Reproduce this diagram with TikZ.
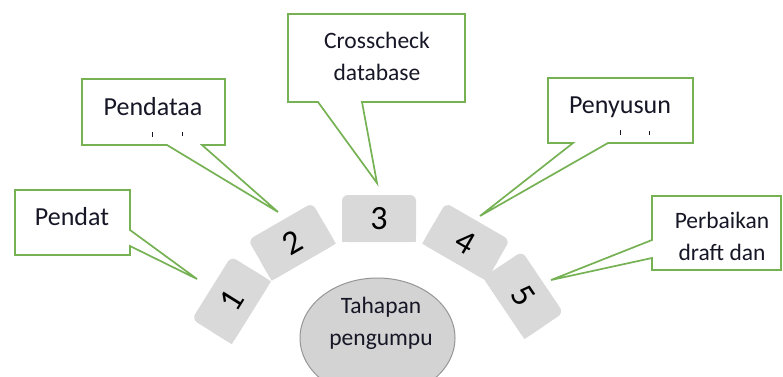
\documentclass[tikz,border=0pt]{standalone}
\usepackage{fontspec}
\setmainfont{Carlito}
\usetikzlibrary{shapes.geometric}
\definecolor{callgreen}{RGB}{118,178,84}
\definecolor{tilegray}{RGB}{217,217,217}
\definecolor{hubfill}{RGB}{211,211,211}
\definecolor{hubedge}{RGB}{150,150,150}
\definecolor{ink}{RGB}{22,22,38}
\begin{document}
\begin{tikzpicture}[x=1pt,y=-1pt,
  callout/.style={draw=callgreen, line width=1.7pt, fill=white, line join=miter},
  bigtxt/.style={anchor=base, inner sep=0pt, text=ink, font=\fontsize{26}{32}\selectfont},
  midtxt/.style={anchor=base, inner sep=0pt, text=ink, font=\fontsize{23.5}{32}\selectfont},
  digit/.style={inner sep=0pt, text=black, font=\fontsize{34}{40}\selectfont, transform shape},
  hub/.style={ellipse, draw=hubedge, line width=1pt, fill=hubfill, inner sep=0pt,
    minimum width=155pt, minimum height=120pt},
  cut/.style={fill=ink}]
\clip (0,0) rectangle (783,376);
\fill[white] (0,0) rectangle (783,376);

% tips of the callout pointers
\coordinate (p1) at (197,279);
\coordinate (p2) at (278,212);
\coordinate (p3) at (377,183);
\coordinate (p4) at (480,216);
\coordinate (p5) at (551,280);

% centre hub
\node[hub] (hub) at (377.5,338) {};
\node[midtxt] (hubA) at (381,313) {Tahapan};
\node[midtxt] (hubB) at (381,345) {pengumpu};

% numbered tiles on an arc around the hub
\foreach \a/\n in {148/1,120/2,90/3,60/4,34/5}{
  \begin{scope}[shift={({379+174*cos(\a)},{392.5-174*sin(\a)})}, rotate=\a-90]
    \fill[tilegray, rounded corners=6pt] (-37,-23.5) rectangle (37,23.5);
    \fill[tilegray] (-37,0) rectangle (37,23.5);
    \node[digit] (t\n) at (0,0.5) {\n};
  \end{scope}
}

% callout 1
\draw[callout] (15,190) -- (130,190) -- (130,230) -- (p1) -- (130,246)
  -- (130,255) -- (15,255) -- cycle;
\node[bigtxt] (c1) at (72,225) {Pendat};

% callout 2
\draw[callout] (82,79) -- (225,79) -- (225,145) -- (202,145) -- (p2)
  -- (167,145) -- (82,145) -- cycle;
\node[bigtxt] (c2) at (153,115) {Pendataa};
\fill[cut] (151.5,132) rectangle (153,137);
\fill[cut] (181.5,132) rectangle (183,136);

% callout 3
\draw[callout] (288,14) -- (465,14) -- (465,102) -- (362,102) -- (p3)
  -- (318,102) -- (288,102) -- cycle;
\node[midtxt] (c3a) at (377,48) {Crosscheck};
\node[midtxt] (c3b) at (377,80) {database};

% callout 4
\draw[callout] (548,78) -- (693,78) -- (693,143) -- (608,143) -- (p4)
  -- (573,143) -- (548,143) -- cycle;
\node[bigtxt] (c4) at (620,113) {Penyusun};
\fill[cut] (619.5,130) rectangle (621,135);
\fill[cut] (648.5,130.5) rectangle (650,135);

% callout 5
\draw[callout] (652,196) -- (781,196) -- (781,270) -- (652,270) -- (652,258)
  -- (p5) -- (652,240) -- cycle;
\node[midtxt] (c5a) at (722,228) {Perbaikan};
\node[midtxt] (c5b) at (722,260) {draft dan};
\end{tikzpicture}
\end{document}
